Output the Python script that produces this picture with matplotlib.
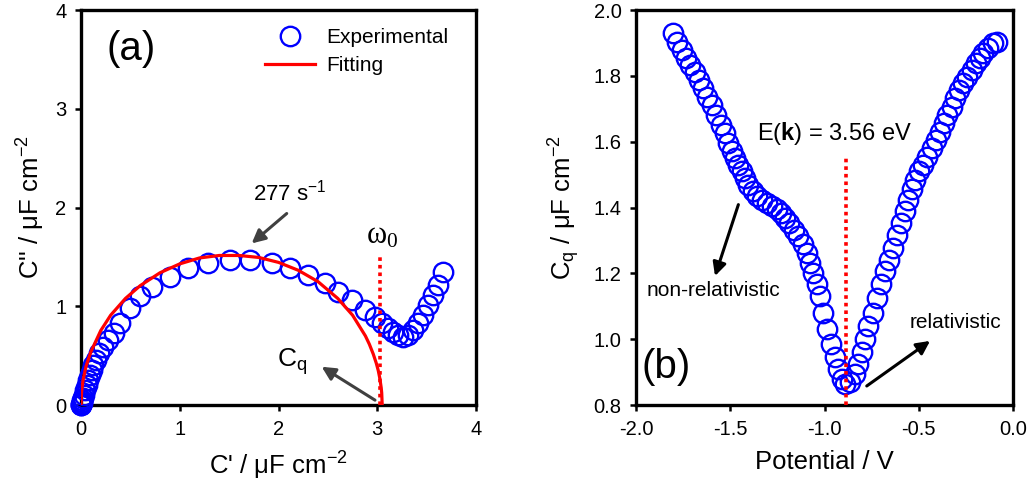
import matplotlib
matplotlib.use("Agg")
import matplotlib.pyplot as plt
from matplotlib.lines import Line2D

plt.rcParams['font.family'] = ['Liberation Sans', 'DejaVu Sans']
plt.rcParams['mathtext.fontset'] = 'custom'
plt.rcParams['mathtext.rm'] = 'Liberation Sans'
plt.rcParams['mathtext.it'] = 'Liberation Sans:italic'
plt.rcParams['mathtext.bf'] = 'Liberation Sans:bold'

# ---- Panel (a): Nyquist-type capacitance plot ----
exp_re = [0.0, 0.0, 0.002, 0.005, 0.009, 0.014, 0.02, 0.03, 0.044, 0.057, 0.074, 0.091,
          0.108, 0.125, 0.152, 0.186, 0.226, 0.277, 0.33, 0.395, 0.496, 0.597, 0.716,
          0.90, 1.087, 1.29, 1.509, 1.71, 1.93, 2.116, 2.30, 2.47, 2.606, 2.74, 2.876,
          2.977, 3.045, 3.11, 3.16, 3.21, 3.265, 3.31, 3.365, 3.416, 3.466, 3.517,
          3.568, 3.62, 3.67]
exp_im = [0.0, 0.005, 0.015, 0.025, 0.035, 0.05, 0.07, 0.10, 0.152, 0.203, 0.253, 0.304,
          0.354, 0.405, 0.456, 0.523, 0.59, 0.658, 0.73, 0.83, 0.98, 1.10, 1.20,
          1.30, 1.384, 1.435, 1.468, 1.468, 1.435, 1.384, 1.316, 1.232, 1.148, 1.063, 0.962,
          0.894, 0.827, 0.777, 0.742, 0.709, 0.692, 0.709, 0.76, 0.827, 0.911, 1.013,
          1.114, 1.215, 1.35]
fit_re = [0.0, 0.005, 0.01, 0.02, 0.05, 0.1, 0.2, 0.3, 0.45, 0.6, 0.8, 1.0, 1.2, 1.4,
          1.6, 1.8, 2.0, 2.2, 2.4, 2.6, 2.75, 2.88, 2.92, 2.96, 2.99, 3.01, 3.025,
          3.04, 3.045, 3.05]
fit_im = [0.0, 0.123, 0.174, 0.25, 0.39, 0.54, 0.755, 0.91, 1.08, 1.21, 1.34, 1.43,
          1.49, 1.515, 1.515, 1.495, 1.445, 1.365, 1.25, 1.08, 0.91, 0.70, 0.616,
          0.515, 0.424, 0.35, 0.275, 0.175, 0.123, 0.0]
omega0_re = 3.03
omega0_top = 1.53

# ---- Panel (b): quantum capacitance vs potential ----
pot = [-1.802, -1.781, -1.758, -1.735, -1.714, -1.687, -1.664, -1.643, -1.622, -1.598,
       -1.576, -1.551, -1.528, -1.510, -1.492, -1.475, -1.457, -1.439, -1.422, -1.404,
       -1.381, -1.360, -1.333, -1.307, -1.280, -1.254, -1.232, -1.210, -1.187, -1.162,
       -1.139, -1.116, -1.094, -1.077, -1.059, -1.041, -1.024, -1.006, -0.985, -0.967,
       -0.944, -0.927, -0.909, -0.891, -0.865, -0.838, -0.821, -0.803, -0.785, -0.768,
       -0.744, -0.723, -0.702, -0.679, -0.658, -0.635, -0.617, -0.596, -0.573, -0.555,
       -0.537, -0.520, -0.497, -0.476, -0.455, -0.431, -0.408, -0.387, -0.366, -0.348,
       -0.325, -0.308, -0.285, -0.264, -0.242, -0.219, -0.196, -0.175, -0.158, -0.131,
       -0.104, -0.083]
cq = [1.929, 1.904, 1.879, 1.854, 1.833, 1.813, 1.788, 1.763, 1.737, 1.712,
      1.682, 1.652, 1.626, 1.596, 1.571, 1.551, 1.530, 1.510, 1.490, 1.470,
      1.449, 1.434, 1.424, 1.414, 1.406, 1.396, 1.384, 1.369, 1.354, 1.333,
      1.313, 1.288, 1.263, 1.232, 1.202, 1.167, 1.131, 1.081, 1.030, 0.985,
      0.945, 0.909, 0.879, 0.864, 0.869, 0.894, 0.924, 0.960, 1.000, 1.040,
      1.081, 1.126, 1.167, 1.207, 1.242, 1.278, 1.318, 1.354, 1.389, 1.424,
      1.455, 1.485, 1.510, 1.530, 1.555, 1.581, 1.606, 1.631, 1.657, 1.682,
      1.707, 1.732, 1.758, 1.778, 1.798, 1.818, 1.838, 1.854, 1.869, 1.884,
      1.899, 1.904]
dirac_pot = -0.886
dirac_top = 1.555

ticks_a = [0, 1, 2, 3, 4]
ticks_bx = [-2.0, -1.5, -1.0, -0.5, 0.0]
ticks_by = [0.8, 1.0, 1.2, 1.4, 1.6, 1.8, 2.0]

fig = plt.figure(figsize=(10.27, 4.94), dpi=100)
axa = fig.add_axes([0.0789, 0.180, 0.3846, 0.7996])
axb = fig.add_axes([0.6193, 0.180, 0.3671, 0.7996])

blue = '#0000ff'
mk = dict(marker='o', ms=14, mfc='none', mec=blue, mew=1.7, ls='none')

# Panel a
axa.plot(exp_re, exp_im, **mk, zorder=3, clip_on=False)
axa.plot(fit_re, fit_im, color='#ff0000', lw=2.3, zorder=4)
axa.plot([omega0_re, omega0_re], [0, omega0_top], color='#ff0000', lw=2.6,
         ls=(0, (1, 1.1)), zorder=5, clip_on=False)
axa.set_xlim(0, 4)
axa.set_ylim(0, 4)
axa.set_xticks(ticks_a)
axa.set_yticks(ticks_a)
axa.set_xticklabels([str(t) for t in ticks_a])
axa.set_yticklabels([str(t) for t in ticks_a])
axa.set_xlabel("C' / \u03bcF cm$^{-2}$", fontsize=18.5, labelpad=8)
axa.set_ylabel("C'' / \u03bcF cm$^{-2}$", fontsize=18.5, labelpad=6)

axa.text(0.26, 3.61, '(a)', fontsize=29, ha='left', va='center')
axa.text(1.74, 2.076, '277 s$^{-1}$', fontsize=16, ha='left', va='baseline')
axa.text(1.98, 0.388, 'C$_{\\mathregular{q}}$', fontsize=19, ha='left', va='baseline')
axa.text(2.89, 1.637, '$\\mathregular{\u03c9_0}$', fontsize=22, ha='left', va='baseline',
         family='Liberation Serif')
gray = '#404040'
axa.annotate('', xy=(1.728, 1.637), xytext=(2.083, 1.94),
             arrowprops=dict(arrowstyle='-|>', color=gray, lw=2.2, mutation_scale=20,
                             shrinkA=0, shrinkB=0))
axa.annotate('', xy=(2.437, 0.388), xytext=(2.977, 0.05),
             arrowprops=dict(arrowstyle='-|>', color=gray, lw=2.2, mutation_scale=20,
                             shrinkA=0, shrinkB=0))

handles = [Line2D([], [], marker='o', ms=14, mfc='none', mec=blue, mew=1.7, ls='none'),
           Line2D([], [], color='#ff0000', lw=2.3)]
axa.legend(handles, ['Experimental', 'Fitting'], loc='upper left',
           bbox_to_anchor=(0.466, 0.955), frameon=False, fontsize=15,
           handlelength=2.4, handletextpad=0.55, labelspacing=0.45,
           borderpad=0, borderaxespad=0)

# Panel b
axb.plot(pot, cq, **mk, zorder=3)
axb.plot([dirac_pot, dirac_pot], [0.8, dirac_top], color='#ff0000', lw=2.6,
         ls=(0, (1, 1.1)), zorder=5, clip_on=False)
axb.set_xlim(-2.0, 0.0)
axb.set_ylim(0.8, 2.0)
axb.set_xticks(ticks_bx)
axb.set_yticks(ticks_by)
axb.set_xticklabels([f'{t:.1f}' for t in ticks_bx])
axb.set_yticklabels([f'{t:.1f}' for t in ticks_by])
axb.set_xlabel('Potential / V', fontsize=18.5, labelpad=8)
axb.set_ylabel('C$_{\\mathregular{q}}$ / \u03bcF cm$^{-2}$', fontsize=18.5, labelpad=8)

axb.text(-1.36, 1.606, 'E($\\mathbf{k}$) = 3.56 eV', fontsize=17, ha='left', va='baseline')
axb.text(-1.943, 1.131, 'non-relativistic', fontsize=15, ha='left', va='baseline')
axb.text(-0.546, 1.035, 'relativistic', fontsize=15, ha='left', va='baseline')
axb.text(-1.97, 0.915, '(b)', fontsize=29, ha='left', va='center')
axb.annotate('', xy=(-1.581, 1.192), xytext=(-1.457, 1.409),
             arrowprops=dict(arrowstyle='-|>', color='black', lw=2.2, mutation_scale=20,
                             shrinkA=0, shrinkB=0))
axb.annotate('', xy=(-0.44, 0.995), xytext=(-0.776, 0.858),
             arrowprops=dict(arrowstyle='-|>', color='black', lw=2.2, mutation_scale=20,
                             shrinkA=0, shrinkB=0))

for ax in (axa, axb):
    for s in ax.spines.values():
        s.set_linewidth(2.4)
    ax.tick_params(direction='out', length=4.5, width=1.8, labelsize=14.5, pad=6,
                   top=False, right=False)

fig.savefig('out.png', dpi=100)
